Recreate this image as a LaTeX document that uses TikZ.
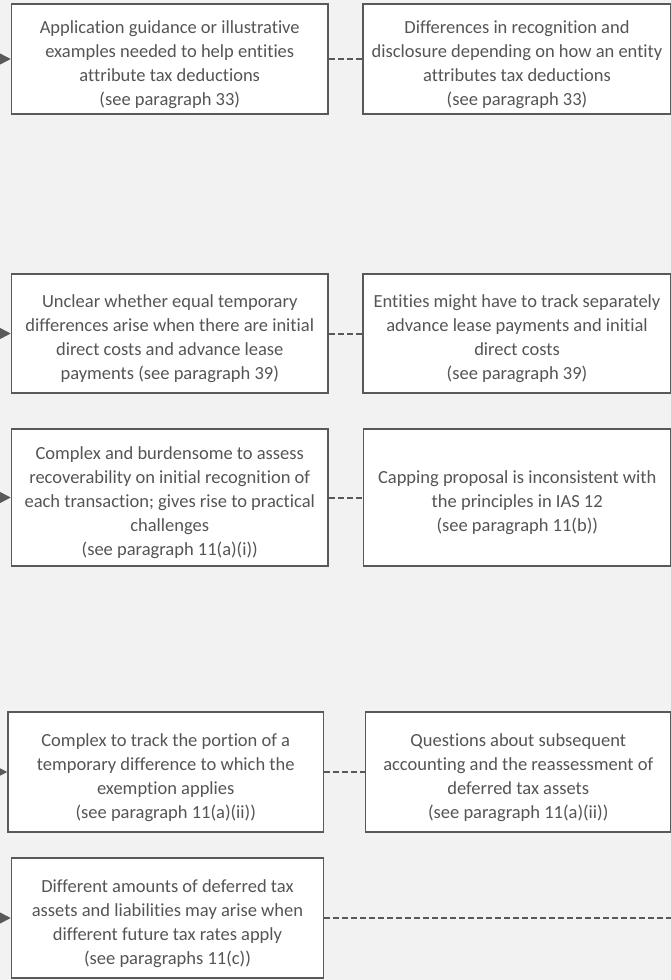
\documentclass[tikz,border=0pt]{standalone}
\usepackage{fontspec}
\setmainfont{Carlito}[Ligatures=CommonOff]
\usetikzlibrary{arrows.meta, positioning}
\definecolor{cbg}{HTML}{F2F2F2}
\definecolor{cline}{HTML}{595959}
\definecolor{ctext}{HTML}{555555}
\newcommand{\lift}{\rule{0pt}{20bp}}% taller first line, pushes the text down a little
\tikzset{
  every picture/.style={font=\fontsize{18.5bp}{24bp}\selectfont, line width=1.5bp},
  card/.style={draw=cline, fill=white, text=ctext, align=center, inner sep=2pt, text depth=0bp},
  feed/.style={-{Triangle[length=11bp, width=11bp]}, draw=cline},
  link/.style={draw=cline, line width=2bp, dash pattern=on 6bp off 3bp},
}

\begin{document}
\begin{tikzpicture}[x=1bp, y=-1bp]
  \useasboundingbox (0,0) rectangle (671,980);
  \fill[cbg] (0,0) rectangle (671,980);
  % row 1: attribution of tax deductions
  \node[card, minimum width=316.5bp, minimum height=110bp] (l1) at (169.75,59)
    {\lift Application guidance or illustrative\\examples needed to help entities\\attribute tax deductions\\(see paragraph 33)};
  \node[card, minimum width=308bp, minimum height=110bp, right=33.5bp of l1] (r1)
    {\lift Differences in recognition and\\disclosure depending on how an entity\\attributes tax deductions\\(see paragraph 33)};
  % row 2: initial direct costs and advance payments
  \node[card, minimum width=316.5bp, minimum height=119bp] (l2) at (169.75,333.5)
    {\lift Unclear whether equal temporary\\differences arise when there are initial\\direct costs and advance lease\\payments (see paragraph 39)};
  \node[card, minimum width=308bp, minimum height=119bp, right=33.5bp of l2] (r2)
    {\lift Entities might have to track separately\\advance lease payments and initial\\direct costs\\(see paragraph 39)};
  % row 3: recoverability
  \node[card, minimum width=316.5bp, minimum height=137bp] (l3) at (169.75,497.5)
    {\lift Complex and burdensome to assess\\recoverability on initial recognition of\\each transaction; gives rise to practical\\challenges\\(see paragraph 11(a)(i))};
  \node[card, minimum width=307.5bp, minimum height=137bp, right=34bp of l3] (r3)
    {\lift Capping proposal is inconsistent with\\the principles in IAS 12\\(see paragraph 11(b))};
  % row 4: tracking the exempt portion
  \node[card, minimum width=315.5bp, minimum height=120bp] (l4) at (165.75,772)
    {\lift Complex to track the portion of a\\temporary difference to which the\\exemption applies\\(see paragraph 11(a)(ii))};
  \node[card, minimum width=305.5bp, minimum height=120bp, right=40.5bp of l4] (r4)
    {\lift Questions about subsequent\\accounting and the reassessment of\\deferred tax assets\\(see paragraph 11(a)(ii))};
  % row 5: different tax rates
  \node[card, minimum width=312bp, minimum height=120bp] (l5) at (167.5,918)
    {\lift Different amounts of deferred tax\\assets and liabilities may arise when\\different future tax rates apply\\(see paragraphs 11(c))};
  \coordinate (out5) at (690,918);
  % connectors
  \foreach \i/\y in {1/59, 2/333.5, 3/497.5, 4/772, 5/918}{
    \coordinate (in\i) at (-20,\y);
    \draw[feed] (in\i) -- (l\i.west);
  }
  \foreach \i in {1,...,4}
    \draw[link] (l\i.east) -- (r\i.west);
  \draw[link] (l5.east) -- (out5);
\end{tikzpicture}
\end{document}
